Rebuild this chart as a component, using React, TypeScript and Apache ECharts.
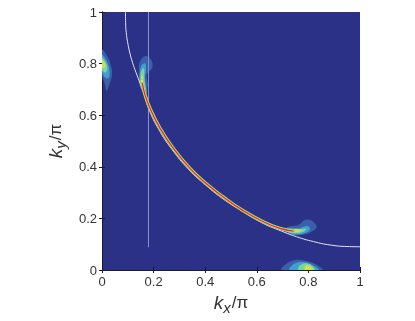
import React, { useEffect, useRef } from "react";
import * as echarts from "echarts";

type Pt = [number, number];

const fermiArc: Pt[] = [[0.091, 1], [0.0915, 0.96], [0.094, 0.92], [0.099, 0.885], [0.107, 0.845], [0.118, 0.805], [0.132, 0.765], [0.16, 0.69], [0.181, 0.625], [0.22, 0.545], [0.271, 0.468], [0.336, 0.39], [0.401, 0.33], [0.466, 0.278], [0.537, 0.232], [0.62, 0.183], [0.685, 0.155], [0.754, 0.129], [0.82, 0.11], [0.884, 0.097], [0.95, 0.091], [1, 0.09]];
const verticalCut: Pt[] = [[0.18, 0.09], [0.18, 1]];

const ridgeWide: Pt[] = [[0.154, 0.735], [0.167, 0.678], [0.186, 0.627], [0.225, 0.549], [0.276, 0.472], [0.341, 0.394], [0.406, 0.333], [0.47, 0.283], [0.541, 0.234], [0.625, 0.187], [0.69, 0.161], [0.741, 0.151]];
const ridgeCore: Pt[] = [[0.156, 0.724], [0.167, 0.678], [0.186, 0.627], [0.225, 0.549], [0.276, 0.472], [0.341, 0.394], [0.406, 0.333], [0.47, 0.283], [0.541, 0.234], [0.625, 0.187], [0.69, 0.161], [0.741, 0.151]];

const edgeOuter: Pt[] = [[0, 0.853], [0.018, 0.833], [0.034, 0.795], [0.039, 0.756], [0.028, 0.717], [0.018, 0.695], [0.01, 0.723], [0, 0.756]];
const edgeMid: Pt[] = [[0, 0.833], [0.016, 0.814], [0.028, 0.782], [0.028, 0.749], [0.016, 0.743], [0, 0.769]];
const edgeGreen: Pt[] = [[0, 0.824], [0.013, 0.807], [0.021, 0.782], [0.013, 0.765], [0, 0.778]];
const edgeYellow: Pt[] = [[0, 0.814], [0.01, 0.804], [0.013, 0.791], [0.005, 0.782], [0, 0.788]];

const upperOuter: Pt[] = [[0.143, 0.782], [0.147, 0.807], [0.167, 0.829], [0.189, 0.817], [0.196, 0.788], [0.183, 0.769], [0.173, 0.756], [0.176, 0.71], [0.147, 0.71]];
const upperMid: Pt[] = [[0.147, 0.769], [0.154, 0.795], [0.167, 0.801], [0.171, 0.782], [0.167, 0.743], [0.173, 0.685], [0.154, 0.698], [0.146, 0.736]];
const upperGreen: Pt[] = [[0.149, 0.749], [0.154, 0.775], [0.163, 0.782], [0.164, 0.743], [0.171, 0.678], [0.155, 0.704]];
const upperYellow: Pt[] = [[0.15, 0.736], [0.155, 0.756], [0.16, 0.736], [0.167, 0.678], [0.155, 0.708]];

const lowerOuter: Pt[] = [[0.76, 0.174], [0.787, 0.194], [0.813, 0.191], [0.832, 0.168], [0.813, 0.149], [0.787, 0.138], [0.741, 0.136], [0.709, 0.145], [0.716, 0.165]];
const lowerMid: Pt[] = [[0.716, 0.161], [0.761, 0.161], [0.78, 0.168], [0.803, 0.168], [0.803, 0.152], [0.774, 0.14], [0.735, 0.14]];
const lowerGreen: Pt[] = [[0.742, 0.159], [0.774, 0.159], [0.79, 0.16], [0.783, 0.149], [0.755, 0.142], [0.722, 0.146]];
const lowerYellow: Pt[] = [[0.722, 0.158], [0.774, 0.155], [0.761, 0.147], [0.735, 0.145]];

const bottomOuter: Pt[] = [[0.697, 0], [0.716, 0.026], [0.748, 0.039], [0.787, 0.036], [0.826, 0.023], [0.854, 0]];
const bottomMid: Pt[] = [[0.728, 0], [0.748, 0.026], [0.787, 0.03], [0.82, 0.017], [0.839, 0]];
const bottomGreen: Pt[] = [[0.761, 0], [0.768, 0.018], [0.791, 0.026], [0.814, 0.016], [0.825, 0]];
const bottomYellow: Pt[] = [[0.786, 0], [0.79, 0.017], [0.806, 0.016], [0.817, 0]];

const PALE = "#3a5fab";
const MID = "#3f9fd0";
const GREEN = "#7fd49a";
const YELLOW = "#cfe04e";

const contours: { points: Pt[]; color: string }[] = [
  { points: edgeOuter, color: PALE }, { points: edgeMid, color: MID }, { points: edgeGreen, color: GREEN }, { points: edgeYellow, color: YELLOW },
  { points: upperOuter, color: PALE }, { points: upperMid, color: MID }, { points: upperGreen, color: GREEN }, { points: upperYellow, color: YELLOW },
  { points: lowerOuter, color: PALE }, { points: lowerMid, color: MID }, { points: lowerGreen, color: GREEN }, { points: lowerYellow, color: YELLOW },
  { points: bottomOuter, color: PALE }, { points: bottomMid, color: MID }, { points: bottomGreen, color: GREEN }, { points: bottomYellow, color: YELLOW },
];

const lineSeries = (data: Pt[], color: string, width: number, smooth: boolean, z: number) => ({
  type: "line", data, smooth, symbol: "none", z, silent: true, lineStyle: { color, width, cap: "round" }, clip: true,
});

const labelColor = "#333333";
const axisLine = { show: true, lineStyle: { color: "#1a1a2a", width: 1 } };
const tick = { show: true, inside: true, length: 3, lineStyle: { color: "#1a1a2a", width: 1 } };

export default function App() {
  const ref = useRef<HTMLDivElement>(null);
  useEffect(() => {
    document.body.style.margin = "0";
    const chart = echarts.init(ref.current!, undefined, { renderer: "svg" });
    const font = "'Liberation Sans', Arial, sans-serif";
    const nameRich = {
      i: { fontFamily: font, fontStyle: "italic", fontSize: 19, color: labelColor },
      s: { fontFamily: font, fontStyle: "italic", fontSize: 15, color: labelColor, verticalAlign: "bottom", padding: [10, 1, 0, 0] },
      n: { fontFamily: font, fontSize: 17, color: labelColor },
    };
    const base = { type: "value", min: 0, max: 1, interval: 0.2, splitLine: { show: false }, axisLine, axisTick: tick };
    const axisLabel = { fontFamily: font, fontSize: 13, color: labelColor, margin: 5, formatter: (v: number) => String(+v.toFixed(1)) };
    chart.setOption({
      animation: false,
      grid: { left: 102, top: 12, width: 258, height: 258, show: true, backgroundColor: "#2a3187", borderWidth: 0, z: 0, outerBoundsMode: "none" },
      xAxis: [
        { ...base, position: "bottom", axisLabel, name: "{i|k}{s|x}{n|/π}", nameLocation: "middle", nameGap: 19, nameTextStyle: { rich: nameRich } },
        { ...base, position: "top", axisLabel: { show: false } },
      ],
      yAxis: [
        { ...base, position: "left", axisLabel, name: "{i|k}{s|y}{n|/π}", nameLocation: "middle", nameGap: 28, nameRotate: 90, nameTextStyle: { rich: nameRich } },
        { ...base, position: "right", axisLabel: { show: false } },
      ],
      series: [
        {
          type: "custom", silent: true, clip: true, z: 2, coordinateSystem: "cartesian2d",
          data: contours.map((_, i) => [i, 0]),
          encode: { x: 0, y: 1 },
          renderItem: (params: any, api: any) => {
            const c = contours[params.dataIndex];
            return {
              type: "polygon",
              shape: { points: c.points.map((p) => api.coord(p)), smooth: 0.4 },
              style: { fill: c.color },
            };
          },
        },
        lineSeries(verticalCut, "#8d93cc", 1, false, 3),
        lineSeries(fermiArc, "#e4e6f4", 1, true, 3),
        lineSeries(ridgeWide, "#5cc0c4", 3.4, true, 4),
        lineSeries(ridgeWide, "#e9e44a", 2.4, true, 5),
        lineSeries(ridgeCore, "#e8281c", 1.3, true, 6),
      ],
    });
    return () => chart.dispose();
  }, []);
  return <div ref={ref} style={{ width: 415, height: 321, filter: "blur(0.35px)" }} />;
}
